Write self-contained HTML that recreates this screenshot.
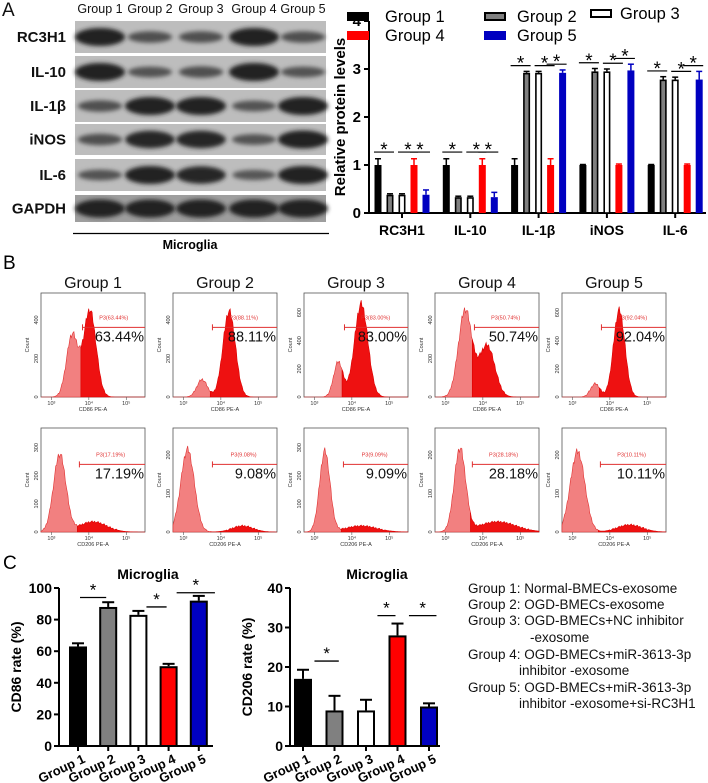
<!DOCTYPE html>
<html><head><meta charset="utf-8"><style>
html,body{margin:0;padding:0;background:#fff;}
svg{display:block;font-family:"Liberation Sans",Arial,sans-serif;}
</style></head><body>
<svg id="fig" width="708" height="783" viewBox="0 0 708 783" xmlns="http://www.w3.org/2000/svg">
<defs>
<filter id="blur" x="-30%" y="-60%" width="160%" height="220%"><feGaussianBlur stdDeviation="2.2"/></filter>
</defs>
<g id="panelA-blot"></g>
<g id="panelA-chart"></g>
<g id="panelB"></g>
<g id="panelC1"></g>
<g id="panelC2"></g>
<g id="legendC" font-size="13.5" fill="#111">
<text x="468" y="593">Group 1:  Normal-BMECs-exosome</text>
<text x="468" y="609">Group 2:  OGD-BMECs-exosome</text>
<text x="468" y="625">Group 3:  OGD-BMECs+NC inhibitor</text>
<text x="530" y="642">-exosome</text>
<text x="468" y="659">Group 4:  OGD-BMECs+miR-3613-3p</text>
<text x="519" y="675">inhibitor -exosome</text>
<text x="468" y="692">Group 5:  OGD-BMECs+miR-3613-3p</text>
<text x="519" y="708">inhibitor -exosome+si-RC3H1</text>
</g>
</svg>
<script>
// ---------- data ----------
const groups = ["Group 1","Group 2","Group 3","Group 4","Group 5"];
const groupColors = ["#000","#808080","#fff","#ff0000","#0000c0"];
const proteins = ["RC3H1","IL-10","IL-1β","iNOS","IL-6"];
const blotRows = ["RC3H1","IL-10","IL-1β","iNOS","IL-6","GAPDH"];
const bandIntensity = [[1,0.45,0.45,1,0.45],[1,0.4,0.45,1,0.4],[0.45,1,1,0.4,1],[0.45,0.95,0.95,0.4,1],[0.4,1,0.95,0.35,1],[1,1,1,1,1]];
const protG1 = [1,1,1,1,1];
const protG2 = [0.38,0.33,2.92,2.95,2.78];
const protG3 = [0.38,0.33,2.92,2.95,2.78];
const protG4 = [1,1,1,1,1];
const protG5 = [0.38,0.33,2.92,2.97,2.78];
const protErr1 = [0.13,0.13,0.13,0.01,0.01];
const protErr2 = [0.02,0.02,0.03,0.06,0.06];
const protErr3 = [0.02,0.02,0.03,0.05,0.05];
const protErr4 = [0.13,0.13,0.13,0.02,0.02];
const protErr5 = [0.1,0.1,0.06,0.13,0.17];
const protTicks = [0,1,2,3,4];
const cd86Vals = [63,88,83,50.5,92];
const cd86Err = [2,3,2.5,1.5,3];
const cd86Ticks = [0,20,40,60,80,100];
const cd206Vals = [17,9,9,28,10];
const cd206Err = [2.3,3.7,2.7,3,0.8];
const cd206Ticks = [0,10,20,30,40];
const flowTopPct = ["63.44%","88.11%","83.00%","50.74%","92.04%"];
const flowBotPct = ["17.19%","9.08%","9.09%","28.18%","10.11%"];
// peaks: [center, height, width] (fractions of plot)
const flowTopPeaks = [[[0.3,0.6,0.055],[0.47,0.84,0.06]],[[0.28,0.17,0.05],[0.54,0.83,0.06]],[[0.33,0.34,0.045],[0.55,0.9,0.065]],[[0.29,0.84,0.065],[0.5,0.5,0.075]],[[0.32,0.13,0.045],[0.55,0.84,0.055]]];
const flowBotPeaks = [[[0.18,0.75,0.06],[0.5,0.1,0.13]],[[0.14,0.8,0.065],[0.67,0.06,0.1]],[[0.2,0.78,0.05],[0.55,0.06,0.15]],[[0.24,0.8,0.055],[0.6,0.1,0.18]],[[0.15,0.78,0.07],[0.65,0.07,0.12]]];
const flowTopGate = [0.38,0.36,0.37,0.36,0.36];
const flowBotGate = [0.35,0.36,0.36,0.34,0.35];
const flowYTicksTop = [["0","200","400"],["0","200","400"],["0","200","400","600"],["0","200","400"],["0","200","400","600"]];

const NS="http://www.w3.org/2000/svg";
function mk(tag,attrs,parent,txt){const e=document.createElementNS(NS,tag);for(const k in attrs)e.setAttribute(k,attrs[k]);if(txt!==undefined)e.textContent=txt;parent.appendChild(e);return e;}

// ---------- Panel A blot ----------
const blot=document.getElementById('panelA-blot');
let t=mk('text',{x:2,y:16,'font-size':19,fill:'#111'},blot,'A');


const laneX=[100,150,201,254,303];
groups.forEach((g,i)=>{
  const l=mk('text',{x:laneX[i],y:13,'font-size':12.5,'text-anchor':'middle',fill:'#111'},blot,g);
  
  
});
const rowY=[[21,53],[56,88],[90,122],[124,155],[159,191],[195,222]];
blotRows.forEach((r,ri)=>{
  const [y0,y1]=rowY[ri];
  const bg=mk('rect',{x:75,y:y0,width:251,height:y1-y0,fill:ri==5?'#9e9e9e':'#bdbdbd'},blot);
  
  
  const cy=(y0+y1)/2;
  bandIntensity[ri].forEach((v,li)=>{
    const b=mk('ellipse',{cx:laneX[li],cy:cy,rx:20+5*v,ry:3+6*v,fill:`rgb(${Math.round(115-80*v)},${Math.round(115-80*v)},${Math.round(115-80*v)})`,filter:'url(#blur)'},blot);
    
    
  });
  const lb=mk('text',{x:66,y:cy+5,'font-size':15,'font-weight':'bold','text-anchor':'end',fill:'#111'},blot,r);
  
  
});
let ln=mk('line',{x1:73,x2:329,y1:233.5,y2:233.5,stroke:'#000','stroke-width':1.2},blot);


t=mk('text',{x:190,y:249,'font-size':12.5,'font-weight':'bold','text-anchor':'middle'},blot,'Microglia');



// ---------- Panel A chart ----------
const ac=document.getElementById('panelA-chart');
const axX=369, y0A=213, pxA=48;
const yA=v=>y0A-v*pxA;
const catX=i=>402+i*68.3;
mk('line',{x1:axX,x2:axX,y1:yA(4),y2:y0A,stroke:'#000','stroke-width':2},ac);
mk('line',{x1:axX,x2:706,y1:y0A,y2:y0A,stroke:'#000','stroke-width':2},ac);
protTicks.forEach(v=>{
  mk('line',{x1:axX-5,x2:axX,y1:yA(v),y2:yA(v),stroke:'#000','stroke-width':2},ac);
  const tl=mk('text',{x:axX-8,y:yA(v)+5,'font-size':15,'font-weight':'bold','text-anchor':'end'},ac,String(v));
  
  
});
t=mk('text',{x:0,y:0,'font-size':15,'font-weight':'bold','text-anchor':'middle',transform:`translate(345,${yA(2)}) rotate(-90)`},ac,'Relative protein levels');


const series=[protG1,protG2,protG3,protG4,protG5];
const errs=[protErr1,protErr2,protErr3,protErr4,protErr5];
proteins.forEach((p,ci)=>{
  const cx=catX(ci);
  mk('line',{x1:cx,x2:cx,y1:y0A,y2:y0A+5,stroke:'#000','stroke-width':2},ac);
  const cl=mk('text',{x:cx,y:235,'font-size':14,'font-weight':'bold','text-anchor':'middle'},ac,p);
  
  
  series.forEach((s,si)=>{
    const bx=cx+(si-2)*12;
    const v=s[ci], e=errs[si][ci];
    const col=groupColors[si];
    const ec= si==3?'#ff0000': si==4?'#0000c0':'#000';
    mk('line',{x1:bx,x2:bx,y1:yA(v),y2:yA(v+e),stroke:ec,'stroke-width':1.5},ac);
    mk('line',{x1:bx-3,x2:bx+3,y1:yA(v+e),y2:yA(v+e),stroke:ec,'stroke-width':1.5},ac);
    const outlined = si==1||si==2;
    const r=mk('rect',{x:bx-3.5+(outlined?0.8:0),y:yA(v)+(outlined?0.8:0),width:7-(outlined?1.6:0),height:v*pxA-(outlined?0.8:0),fill:col,stroke:outlined?'#000':'none','stroke-width':1.6},ac);
    
    
  });
  const high=Math.max(protG2[ci],protG5[ci]);
  const pairs=[[0,1],[2,3],[3,4]];
  pairs.forEach(([a,b])=>{
    const xa=cx+(a-2)*12-4, xb=cx+(b-2)*12+4;
    let top;
    if(high>2) top=Math.max(series[a][ci]+errs[a][ci],series[b][ci]+errs[b][ci])+0.12;
    else top=1.27;
    const ly=yA(top);
    mk('line',{x1:xa,x2:xb,y1:ly,y2:ly,stroke:'#000','stroke-width':1.2},ac);
    const st=mk('text',{x:(xa+xb)/2,y:ly+4,'font-size':19,'text-anchor':'middle'},ac,'*');
    
    
  });
});
const legPos=[[347,16,385],[484,16,517],[590,13,620],[347,35,385],[484,35,517]];
groups.forEach((g,i)=>{
  const [sx,sy,tx]=legPos[i];
  const outlined=i==1||i==2;
  const sw=mk('rect',{x:sx+(outlined?1:0),y:sy-4+(outlined?1:0),width:22-(outlined?2:0),height:9-(outlined?2:0),fill:groupColors[i],stroke:outlined?'#000':'none','stroke-width':2},ac);
  
  
  const lt=mk('text',{x:tx,y:sy+6,'font-size':16.5},ac,g);
  
  
});

// ---------- Panel B ----------
const pb=document.getElementById('panelB');
t=mk('text',{x:3,y:269,'font-size':19},pb,'B');


const colX=[41,173,304,435,562];
function hist(g,px,py,w,h,peaks,gate,pct,marker,yt,row){
  const f=mk('rect',{x:px,y:py,width:w,height:h,fill:'#fff',stroke:'#555','stroke-width':0.8},g);
  
  
  const N=120, pts=[];
  for(let k=0;k<=N;k++){
    const fx=k/N;
    let v=0;
    peaks.forEach(([c,hh,wd])=>{v+=hh*Math.exp(-0.5*((fx-c)/wd)**2);});
    const jit=((k*37)%7)/7-0.5;
    v=Math.max(0,Math.min(0.95,v*(1+0.08*jit)+(v>0.02?0.015*jit:0)));
    pts.push([px+fx*w,py+h-v*h]);
  }
  const gi=Math.round(gate*N);
  let d1=`M${px},${py+h} `+pts.slice(0,gi+1).map(p=>`L${p[0].toFixed(1)},${p[1].toFixed(1)}`).join(' ')+` L${pts[gi][0]},${py+h}Z`;
  let d2=`M${pts[gi][0]},${py+h} `+pts.slice(gi).map(p=>`L${p[0].toFixed(1)},${p[1].toFixed(1)}`).join(' ')+` L${px+w},${py+h}Z`;
  const a=mk('path',{d:d1,fill:'#f28080',stroke:'#e03030','stroke-width':0.6},g);
  
  
  const b=mk('path',{d:d2,fill:'#ee1111',stroke:'#d00','stroke-width':0.6},g);
  
  
  const gx=px+gate*w+2, gy=py+h*(row==0?0.33:0.35);
  mk('line',{x1:gx,x2:px+w,y1:gy,y2:gy,stroke:'#e03030','stroke-width':1},g);
  mk('line',{x1:gx,x2:gx,y1:gy-3,y2:gy+3,stroke:'#e03030','stroke-width':1},g);
  const mt=mk('text',{x:gx+w*0.3,y:gy-8,'font-size':5.5,fill:'#e03030','text-anchor':'middle'},g,marker);
  
  
  const pt=mk('text',{x:px+w-1,y:gy+14,'font-size':14.5,'text-anchor':'end',fill:'#111'},g,pct);
  
  
  ["10³","10⁴","10⁵"].forEach((s,k)=>{
    const tx=px+w*(0.1+0.36*k);
    mk('text',{x:tx,y:py+h+8,'font-size':5.5,'text-anchor':'middle',fill:'#333'},g,s);
    mk('line',{x1:tx,x2:tx,y1:py+h,y2:py+h+3,stroke:'#555','stroke-width':0.6},g);
  });
  const xl=mk('text',{x:px+w*0.5,y:py+h+14,'font-size':5.5,'text-anchor':'middle',fill:'#333'},g,row==0?'CD86 PE-A':'CD206 PE-A');
  
  
  const yl=mk('text',{x:0,y:0,'font-size':5.5,'text-anchor':'middle',fill:'#333',transform:`translate(${px-12},${py+h*0.5}) rotate(-90)`},g,'Count');
  
  
  yt.forEach((s,k)=>{
    const ty=py+h-k*h/(yt.length-0.3);
    mk('text',{x:0,y:0,'font-size':5.5,'text-anchor':'middle',fill:'#333',transform:`translate(${px-3},${ty}) rotate(-90)`},g,s);
  });
}
groups.forEach((gname,i)=>{
  const gt=mk('text',{x:colX[i]+52,y:288,'font-size':16,'text-anchor':'middle',fill:'#111'},pb,gname);
  
  
  const g1=mk('g',{},pb);
  
  
  hist(g1,colX[i],293,104,104,flowTopPeaks[i],flowTopGate[i],flowTopPct[i],'P3('+flowTopPct[i]+')',flowYTicksTop[i],0);
  const g2=mk('g',{},pb);
  
  
  hist(g2,colX[i],428,104,104,flowBotPeaks[i],flowBotGate[i],flowBotPct[i],'P3('+flowBotPct[i]+')',["0","100","200","300"].slice(0,i==1||i==3||i==4?3:4),1);
});

// ---------- Panel C ----------
t=mk('text',{x:3,y:569,'font-size':19},document.getElementById('panelC1'),'C');


function barChart(g,axX,xEnd,bx0,step,bw,vals,errsArr,ticks,maxV,yTitle,sigs,titleX){
  const yb=746, top=588, k=(yb-top)/maxV;
  const y=v=>yb-v*k;
  const tt=mk('text',{x:titleX,y:579,'font-size':14,'font-weight':'bold','text-anchor':'middle'},g,'Microglia');
  
  
  mk('line',{x1:axX,x2:axX,y1:top,y2:yb,stroke:'#000','stroke-width':2},g);
  mk('line',{x1:axX,x2:xEnd,y1:yb,y2:yb,stroke:'#000','stroke-width':2},g);
  ticks.forEach(v=>{
    mk('line',{x1:axX-5,x2:axX,y1:y(v),y2:y(v),stroke:'#000','stroke-width':2},g);
    const tl=mk('text',{x:axX-7,y:y(v)+5,'font-size':14,'font-weight':'bold','text-anchor':'end'},g,String(v));
    
    
  });
  const yt=mk('text',{x:0,y:0,'font-size':14,'font-weight':'bold','text-anchor':'middle',transform:`translate(${axX-38},${(top+yb)/2}) rotate(-90)`},g,yTitle);
  
  
  vals.forEach((v,i)=>{
    const cx=bx0+i*step;
    const e=errsArr[i];
    mk('line',{x1:cx,x2:cx,y1:y(v),y2:y(v+e),stroke:'#000','stroke-width':2},g);
    mk('line',{x1:cx-6,x2:cx+6,y1:y(v+e),y2:y(v+e),stroke:'#000','stroke-width':2},g);
    const r=mk('rect',{x:cx-bw/2+1,y:y(v)+1,width:bw-2,height:v*k-1,fill:groupColors[i],stroke:'#000','stroke-width':2},g);
    
    
    mk('line',{x1:cx,x2:cx,y1:yb,y2:yb+5,stroke:'#000','stroke-width':2},g);
    const xl=mk('text',{x:0,y:0,'font-size':13,'font-weight':'bold','text-anchor':'end',transform:`translate(${cx+8},${yb+16}) rotate(-25)`},g,groups[i]);
    
    
  });
  sigs.forEach(([a,b,lv])=>{
    const xa=bx0+a*step+2, xb=bx0+b*step-2, ly=y(lv);
    mk('line',{x1:xa,x2:xb,y1:ly,y2:ly,stroke:'#000','stroke-width':1.3},g);
    const st=mk('text',{x:(xa+xb)/2,y:ly-2,'font-size':17,'text-anchor':'middle'},g,'*');
    
    
  });
}
barChart(document.getElementById('panelC1'),59,213,78,30.2,18,cd86Vals,cd86Err,cd86Ticks,100,'CD86 rate (%)',[[0,1,94],[2.2,3,88],[3.2,4.6,97]],148);
barChart(document.getElementById('panelC2'),290,440,303,31.5,18,cd206Vals,cd206Err,cd206Ticks,40,'CD206 rate (%)',[[0.3,1.2,21.5],[2.3,3,33],[3.3,4.3,33]],377);
</script>
</body></html>
